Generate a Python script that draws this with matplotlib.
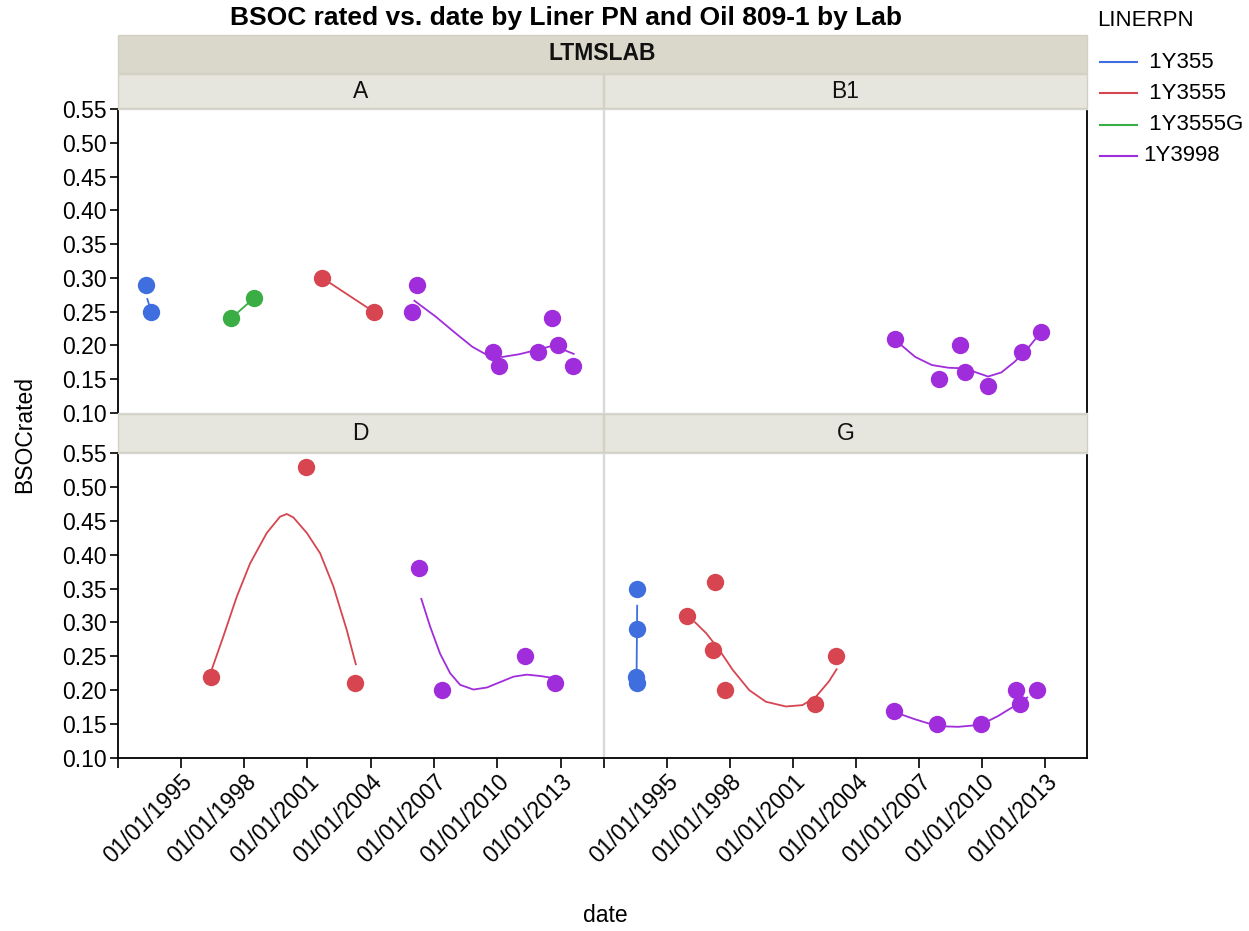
import numpy as np
import matplotlib.pyplot as plt
from matplotlib.lines import Line2D
from matplotlib.patches import Rectangle

plt.rcParams["font.family"] = ["Liberation Sans", "DejaVu Sans"]

W, H = 1249, 931

series_names = [" 1Y355", " 1Y3555", " 1Y3555G", "1Y3998"]
series_colors = ["#3F6FDF", "#D64550", "#3AAE45", "#A02DDB"]
lab_names = ["A", "B1", "D", "G"]

date_ticks = [1995, 1998, 2001, 2004, 2007, 2010, 2013]
date_labels = ["01/01/%d" % y for y in date_ticks]
bsoc_ticks = [0.10, 0.15, 0.20, 0.25, 0.30, 0.35, 0.40, 0.45, 0.50, 0.55]

# ---- lab A ----
a_355_date = [1993.33, 1993.60]
a_355_bsoc = [0.29, 0.25]
a_355_fit_date = [1993.40, 1993.60]
a_355_fit_bsoc = [0.27, 0.25]

a_3555g_date = [1997.38, 1998.46]
a_3555g_bsoc = [0.24, 0.27]

a_3555_date = [2001.70, 2004.13]
a_3555_bsoc = [0.30, 0.25]

a_3998_date = [2005.95, 2006.19, 2009.80, 2010.05, 2011.94, 2012.59, 2012.86, 2013.57]
a_3998_bsoc = [0.25, 0.29, 0.19, 0.17, 0.19, 0.24, 0.20, 0.17]
a_3998_fit_date = [2006.03, 2007.06, 2008.02, 2008.81, 2009.44, 2010.24, 2011.03,
                   2011.82, 2012.54, 2013.10, 2013.65]
a_3998_fit_bsoc = [0.267, 0.243, 0.218, 0.198, 0.187, 0.183, 0.187,
                   0.193, 0.199, 0.194, 0.187]

# ---- lab B1 ----
b1_3998_date = [2005.87, 2007.96, 2008.95, 2009.19, 2010.29, 2011.90, 2012.79]
b1_3998_bsoc = [0.21, 0.15, 0.20, 0.16, 0.14, 0.19, 0.22]
b1_3998_fit_date = [2005.87, 2006.82, 2007.61, 2008.40, 2009.19, 2009.82, 2010.29,
                    2010.92, 2011.56, 2012.19, 2012.79]
b1_3998_fit_bsoc = [0.208, 0.183, 0.171, 0.167, 0.166, 0.159, 0.154,
                    0.160, 0.176, 0.196, 0.219]

# ---- lab D ----
d_3555_date = [1996.43, 2000.92, 2003.26]
d_3555_bsoc = [0.22, 0.53, 0.21]
d_3555_fit_date = [1996.46, 1997.01, 1997.65, 1998.28, 1999.07, 1999.70, 2000.02,
                   2000.33, 2000.97, 2001.60, 2002.23, 2002.86, 2003.30]
d_3555_fit_bsoc = [0.230, 0.279, 0.338, 0.387, 0.432, 0.456, 0.460,
                   0.455, 0.432, 0.402, 0.353, 0.289, 0.237]

d_3998_date = [2006.29, 2007.36, 2011.31, 2012.73]
d_3998_bsoc = [0.38, 0.20, 0.25, 0.21]
d_3998_fit_date = [2006.38, 2006.81, 2007.28, 2007.76, 2008.23, 2008.86, 2009.50,
                   2010.13, 2010.76, 2011.39, 2012.02, 2012.65]
d_3998_fit_bsoc = [0.336, 0.294, 0.254, 0.225, 0.208, 0.201, 0.204,
                   0.212, 0.220, 0.223, 0.221, 0.218]

# ---- lab G ----
g_355_date = [1993.55, 1993.55, 1993.52, 1993.55]
g_355_bsoc = [0.35, 0.29, 0.22, 0.21]
g_355_fit_date = [1993.58, 1993.55]
g_355_fit_bsoc = [0.326, 0.218]

g_3555_date = [1995.95, 1997.29, 1997.21, 1997.75, 2002.05, 2003.03]
g_3555_bsoc = [0.31, 0.36, 0.26, 0.20, 0.18, 0.25]
g_3555_fit_date = [1996.31, 1996.87, 1997.50, 1998.13, 1998.92, 1999.71, 2000.66,
                   2001.45, 2002.08, 2002.71, 2003.10]
g_3555_fit_bsoc = [0.301, 0.284, 0.259, 0.230, 0.200, 0.183, 0.176,
                   0.178, 0.190, 0.213, 0.232]

g_3998_date = [2005.81, 2007.88, 2009.93, 2011.64, 2011.80, 2012.63]
g_3998_bsoc = [0.17, 0.15, 0.15, 0.20, 0.18, 0.20]
g_3998_fit_date = [2005.81, 2006.82, 2007.88, 2008.87, 2009.93, 2010.77, 2011.56, 2012.19]
g_3998_fit_bsoc = [0.168, 0.157, 0.147, 0.146, 0.149, 0.162, 0.177, 0.190]

# (series index, points x, points y, fit x, fit y)
panels = {
    "A": [
        (0, a_355_date, a_355_bsoc, a_355_fit_date, a_355_fit_bsoc),
        (2, a_3555g_date, a_3555g_bsoc, a_3555g_date, a_3555g_bsoc),
        (1, a_3555_date, a_3555_bsoc, a_3555_date, a_3555_bsoc),
        (3, a_3998_date, a_3998_bsoc, a_3998_fit_date, a_3998_fit_bsoc),
    ],
    "B1": [
        (3, b1_3998_date, b1_3998_bsoc, b1_3998_fit_date, b1_3998_fit_bsoc),
    ],
    "D": [
        (1, d_3555_date, d_3555_bsoc, d_3555_fit_date, d_3555_fit_bsoc),
        (3, d_3998_date, d_3998_bsoc, d_3998_fit_date, d_3998_fit_bsoc),
    ],
    "G": [
        (0, g_355_date, g_355_bsoc, g_355_fit_date, g_355_fit_bsoc),
        (1, g_3555_date, g_3555_bsoc, g_3555_fit_date, g_3555_fit_bsoc),
        (3, g_3998_date, g_3998_bsoc, g_3998_fit_date, g_3998_fit_bsoc),
    ],
}


def frac(x0, y0, x1, y1):
    # pixel box (top-left origin) -> figure fraction [l, b, w, h]
    return [x0 / W, 1 - y1 / H, (x1 - x0) / W, (y1 - y0) / H]


def strip(fig, x0, y0, x1, y1, text, color, bold=False):
    l, b, w, h = frac(x0, y0, x1, y1)
    fig.patches.append(Rectangle((l, b), w, h, transform=fig.transFigure,
                                 facecolor=color, edgecolor="#D2D1C4", lw=1.0))
    fig.text(l + w / 2, b + h / 2, text, ha="center", va="center",
             fontsize=16.5, fontweight="bold" if bold else "normal",
             color="#111111")


fig = plt.figure(figsize=(W / 100, H / 100), dpi=100)

boxes = {
    "A": (117.5, 109, 603, 413),
    "B1": (604, 109, 1087, 413),
    "D": (117.5, 453, 603, 758),
    "G": (604, 453, 1087, 758),
}
strip_boxes = {
    "A": (118, 74, 603, 108),
    "B1": (604, 74, 1087, 108),
    "D": (118, 414, 603, 452),
    "G": (604, 414, 1087, 452),
}

strip(fig, 118, 35, 1087, 73, "LTMSLAB", "#DAD8CA", bold=True)

for lab in lab_names:
    ax = fig.add_axes(frac(*boxes[lab]))
    left = lab in ("A", "D")
    bottom = lab in ("D", "G")

    for idx, px, py, fx, fy in panels[lab]:
        c = series_colors[idx]
        ax.plot(fx, fy, color=c, lw=1.3, zorder=2, solid_capstyle="butt")
        ax.plot(px, py, "o", color=c, markersize=12.5, markeredgewidth=0, zorder=3)

    ax.set_xlim(1992.0, 2015.0)
    ax.set_ylim(0.10, 0.55)

    for s in ax.spines.values():
        s.set_color("#D9D9D9")
        s.set_linewidth(1.0)
    if left:
        ax.spines["left"].set_color("black")
        ax.spines["left"].set_linewidth(1.3)
    else:
        ax.spines["right"].set_color("black")
        ax.spines["right"].set_linewidth(1.3)
    if bottom:
        ax.spines["bottom"].set_color("black")
        ax.spines["bottom"].set_linewidth(1.3)

    ax.set_yticks(bsoc_ticks)
    ax.set_yticklabels(["%.2f" % v for v in bsoc_ticks])
    ax.tick_params(axis="y", direction="out", length=6, width=1.2, labelsize=16.5,
                   left=left, labelleft=left, pad=2)

    ax.set_xticks([1992] + date_ticks)
    ax.set_xticklabels([""] + date_labels)
    ax.tick_params(axis="x", direction="out", length=7, width=1.2, labelsize=16.5,
                   bottom=bottom, labelbottom=bottom, pad=2)
    if bottom:
        for t in ax.get_xticklabels():
            t.set_rotation(45)
            t.set_ha("right")
            t.set_va("top")
            t.set_rotation_mode("anchor")

    strip(fig, *strip_boxes[lab], lab, "#E6E6DE")

fig.text(566 / W, 1 - 18 / H, "BSOC rated vs. date by Liner PN and Oil 809-1 by Lab",
         ha="center", va="center", fontsize=19, fontweight="bold")
fig.text(25 / W, 1 - 435 / H, "BSOCrated", rotation=90, ha="center", va="center",
         fontsize=16.5)
fig.text(605 / W, 1 - 915 / H, "date", ha="center", va="center", fontsize=16.5)

# legend
fig.text(1097 / W, 1 - 20 / H, "LINERPN", ha="left", va="center", fontsize=16)
for i, (name, c) in enumerate(zip(series_names, series_colors)):
    yy = 1 - (62 + 31.3 * i) / H
    fig.lines.append(Line2D([1100 / W, 1137 / W], [yy, yy], transform=fig.transFigure,
                            color=c, lw=1.5))
    fig.text(1143 / W, yy, name, ha="left", va="center", fontsize=16)

fig.savefig("out.png", dpi=100)
